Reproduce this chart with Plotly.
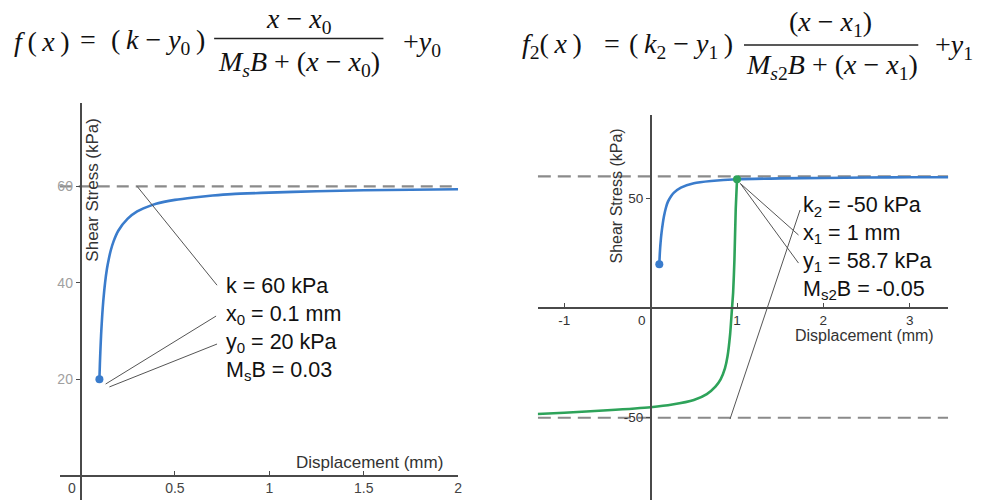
import plotly.graph_objects as go

W, H = 988, 500

# ---------------- data ----------------
left_curve_x = [0.1, 0.1025, 0.105, 0.1075, 0.11, 0.115, 0.12, 0.13, 0.14, 0.15, 0.16, 0.175, 0.2,
                0.25, 0.3, 0.35, 0.4, 0.5, 0.6, 0.7, 0.8, 1.0, 1.25, 1.5, 1.75, 2.0]
left_curve_y = [20.0, 23.1, 25.7, 28.0, 30.0, 33.3, 36.0, 40.0, 42.9, 45.0, 46.7, 48.6, 50.8,
                53.3, 54.8, 55.7, 56.4, 57.2, 57.7, 58.1, 58.4, 58.7, 59.0, 59.2, 59.3, 59.4]
left_start_x = [0.1]
left_start_y = [20]
k_level = 60

right_blue_x = [0.1, 0.103, 0.106, 0.11, 0.115, 0.125, 0.14, 0.154, 0.175, 0.2, 0.24, 0.27, 0.35,
                0.5, 0.7, 1.0, 1.5, 2.0, 2.5, 3.0, 3.45]
right_blue_y = [20.0, 22.5, 25.0, 27.5, 30.0, 34.0, 38.5, 41.8, 45.5, 48.5, 51.2, 52.6, 54.9,
                56.9, 57.9, 58.7, 59.1, 59.3, 59.5, 59.6, 59.6]
right_green_x = [-1.31, -1.0, -0.5, 0.0, 0.25, 0.5, 0.65, 0.75, 0.81, 0.86, 0.89, 0.92, 0.942,
                 0.955, 0.97, 0.985, 1.0]
right_green_y = [-48.3, -47.7, -46.6, -45.2, -44.0, -41.9, -39.2, -35.8, -32.5, -27.5, -22.0,
                 -12.0, 0.0, 7.0, 22.0, 45.0, 58.7]
right_start_x = [0.1]
right_start_y = [20]
x1_point = [1.0]
y1_point = [58.7]
k2_level = -50

left_xticks = [0.5, 1, 1.5, 2]
left_xticklabels = ["0.5", "1", "1.5", "2"]
left_yticks = [20, 40, 60]
left_yticklabels = ["20", "40", "60"]
right_xticks = [-1, 1, 2, 3]
right_xticklabels = ["-1", "1", "2", "3"]
right_yticks = [-50, 50]
right_yticklabels = ["-50", "50"]

left_params = ["k = 60 kPa", "x<sub>0</sub> = 0.1 mm", "y<sub>0</sub> = 20 kPa", "M<sub>s</sub>B = 0.03"]
right_params = ["k<sub>2</sub> = -50 kPa", "x<sub>1</sub> = 1 mm", "y<sub>1</sub> = 58.7 kPa",
                "M<sub>s2</sub>B = -0.05"]

# ---------------- geometry ----------------
L_XR, L_YR = [-0.11, 2.0], [-5.06, 77.3]
L_XD, L_YD = [60 / W, 460 / W], [0.0, 1 - 103 / H]
R_XR, R_YR = [-1.307, 3.445], [-87.5, 88.0]
R_XD, R_YD = [540 / W, 952 / W], [0.0, 1 - 115 / H]


def zero_pos(rng, dom):
    return dom[0] + (0 - rng[0]) / (rng[1] - rng[0]) * (dom[1] - dom[0])


BLUE = "#3a7ccc"
GREEN = "#2ea35a"
DASH = "#8a8a8a"
AX = "#4a4a4a"

fig = go.Figure()

# left panel
fig.add_trace(go.Scatter(x=L_XR, y=[k_level, k_level], mode="lines",
                         line=dict(color=DASH, width=2.2, dash="12px,7px"), xaxis="x", yaxis="y"))
fig.add_trace(go.Scatter(x=left_curve_x, y=left_curve_y, mode="lines",
                         line=dict(color=BLUE, width=2.6, shape="spline", smoothing=0.6), xaxis="x", yaxis="y"))
fig.add_trace(go.Scatter(x=left_start_x, y=left_start_y, mode="markers",
                         marker=dict(color=BLUE, size=8), xaxis="x", yaxis="y"))

# right panel
fig.add_trace(go.Scatter(x=R_XR, y=[k_level, k_level], mode="lines",
                         line=dict(color=DASH, width=2.2, dash="13px,7px"), xaxis="x2", yaxis="y2"))
fig.add_trace(go.Scatter(x=R_XR, y=[k2_level, k2_level], mode="lines",
                         line=dict(color=DASH, width=2.2, dash="13px,7px"), xaxis="x2", yaxis="y2"))
fig.add_trace(go.Scatter(x=right_blue_x, y=right_blue_y, mode="lines",
                         line=dict(color=BLUE, width=2.6, shape="spline", smoothing=0.6), xaxis="x2", yaxis="y2"))
fig.add_trace(go.Scatter(x=right_green_x, y=right_green_y, mode="lines",
                         line=dict(color=GREEN, width=2.6, shape="spline", smoothing=0.6), xaxis="x2", yaxis="y2"))
fig.add_trace(go.Scatter(x=right_start_x, y=right_start_y, mode="markers",
                         marker=dict(color=BLUE, size=8), xaxis="x2", yaxis="y2"))
fig.add_trace(go.Scatter(x=x1_point, y=y1_point, mode="markers",
                         marker=dict(color=GREEN, size=8), xaxis="x2", yaxis="y2"))

axis_common = dict(showgrid=False, zeroline=False, showline=True, linecolor=AX, linewidth=1.6,
                   ticklen=4, tickcolor=AX, tickwidth=1.3, fixedrange=True)

fig.update_layout(
    width=W, height=H, margin=dict(l=0, r=0, t=0, b=0),
    paper_bgcolor="white", plot_bgcolor="rgba(0,0,0,0)", showlegend=False,
    font=dict(family="Liberation Sans, Arial, sans-serif", color="#222"),
    xaxis=dict(axis_common, range=L_XR, domain=L_XD, anchor="free", ticks="inside",
               position=zero_pos(L_YR, L_YD), tickvals=left_xticks, ticktext=left_xticklabels,
               tickfont=dict(size=14, color="#444")),
    yaxis=dict(axis_common, range=L_YR, domain=L_YD, anchor="free", ticks="outside",
               position=zero_pos(L_XR, L_XD), tickvals=left_yticks, ticktext=left_yticklabels,
               tickfont=dict(size=14, color="#a0a0a0")),
    xaxis2=dict(axis_common, range=R_XR, domain=R_XD, anchor="free", ticks="inside",
                position=zero_pos(R_YR, R_YD), tickvals=right_xticks, ticktext=right_xticklabels,
                tickfont=dict(size=13.5, color="#333")),
    yaxis2=dict(axis_common, range=R_YR, domain=R_YD, anchor="free", ticks="outside",
                position=zero_pos(R_XR, R_XD), tickvals=right_yticks, ticktext=right_yticklabels,
                tickfont=dict(size=13.5, color="#333")),
)


def P(px, py):
    return px / W, 1 - py / H


annots = []


def txt(text, px, py, size, xanchor="center", yanchor="middle", angle=0, color="#222", family=None,
        align="center"):
    x, y = P(px, py)
    d = dict(text=text, x=x, y=y, xref="paper", yref="paper", showarrow=False,
             xanchor=xanchor, yanchor=yanchor, textangle=angle, align=align,
             font=dict(size=size, color=color))
    if family:
        d["font"]["family"] = family
    annots.append(d)


# axis titles & origin labels
txt("Shear Stress (kPa)", 92, 190, 17, angle=-90, color="#333")
txt("Displacement (mm)", 371, 462, 17, color="#333")
txt("0", 72, 488, 14, color="#444")
txt("Shear Stress (kPa)", 619, 196, 16, angle=-90, color="#333")
txt("Displacement (mm)", 868, 335, 16, color="#333")
txt("0", 645, 320, 13.5, color="#333")

# parameter blocks
txt("<br>".join(left_params), 225, 329, 21.5, xanchor="left", color="#111", align="left")
txt("<br>".join(right_params), 804, 248, 21.5, xanchor="left", color="#111", align="left")

# equations
SERIF = "Liberation Serif, Times New Roman, serif"
EQ = 28
TS = "\u2009"
txt(f"<i>f</i>{TS}({TS}<i>x</i>{TS})", 12, 42, EQ, xanchor="left", family=SERIF, color="#111")
txt("=", 88, 40, EQ, family=SERIF, color="#111")
txt(f"({TS}<i>k</i> − <i>y</i><sub>0</sub>{TS})", 159, 42, EQ, family=SERIF, color="#111")
txt("<i>x</i> − <i>x</i><sub>0</sub>", 300, 20, EQ, family=SERIF, color="#111")
txt("<i>M<sub>s</sub>B</i> + (<i>x</i> − <i>x</i><sub>0</sub>)", 300, 63, EQ, family=SERIF, color="#111")
txt("+<i>y</i><sub>0</sub>", 403, 44, EQ, xanchor="left", family=SERIF, color="#111")

txt(f"<i>f</i><sub>2</sub>({TS}<i>x</i>{TS})", 522, 46, EQ, xanchor="left", family=SERIF, color="#111")
txt("=", 614, 44, EQ, family=SERIF, color="#111")
txt(f"({TS}<i>k</i><sub>2</sub> − <i>y</i><sub>1</sub>{TS})", 684, 46, EQ, family=SERIF, color="#111")
txt("(<i>x</i> − <i>x</i><sub>1</sub>)", 834, 23, EQ, family=SERIF, color="#111")
txt("<i>M</i><sub><i>s</i>2</sub><i>B</i> + (<i>x</i> − <i>x</i><sub>1</sub>)", 835, 66, EQ, family=SERIF, color="#111")
txt("+<i>y</i><sub>1</sub>", 937, 47, EQ, xanchor="left", family=SERIF, color="#111")

fig.update_layout(annotations=annots)

shapes = []
# fraction bars
for (a, b, yy) in [(215, 385, 38.5), (747, 922, 45)]:
    x0, y0 = P(a, yy)
    x1, _ = P(b, yy)
    shapes.append(dict(type="line", xref="paper", yref="paper", x0=x0, x1=x1, y0=y0, y1=y0,
                       line=dict(color="#222", width=1.4)))

# connector lines (data coordinates)
for (xa, ya, xb, yb) in [(0.30, 60, 0.723, 39.5), (0.133, 19.0, 0.718, 33.1), (0.153, 18.4, 0.723, 27.3)]:
    shapes.append(dict(type="line", xref="x", yref="y", x0=xa, y0=ya, x1=xb, y1=yb,
                       line=dict(color="#555", width=1)))
for (xa, ya, xb, yb) in [(1.038, 56.8, 1.712, 33.3), (1.038, 56.8, 1.712, 20.5), (1.73, 44.7, 0.919, -50.6)]:
    shapes.append(dict(type="line", xref="x2", yref="y2", x0=xa, y0=ya, x1=xb, y1=yb,
                       line=dict(color="#555", width=1)))
fig.update_layout(shapes=shapes)

fig.write_html("out.html", config={"displayModeBar": False},
               post_script="document.body.style.margin='0px';document.body.style.overflow='hidden';")
